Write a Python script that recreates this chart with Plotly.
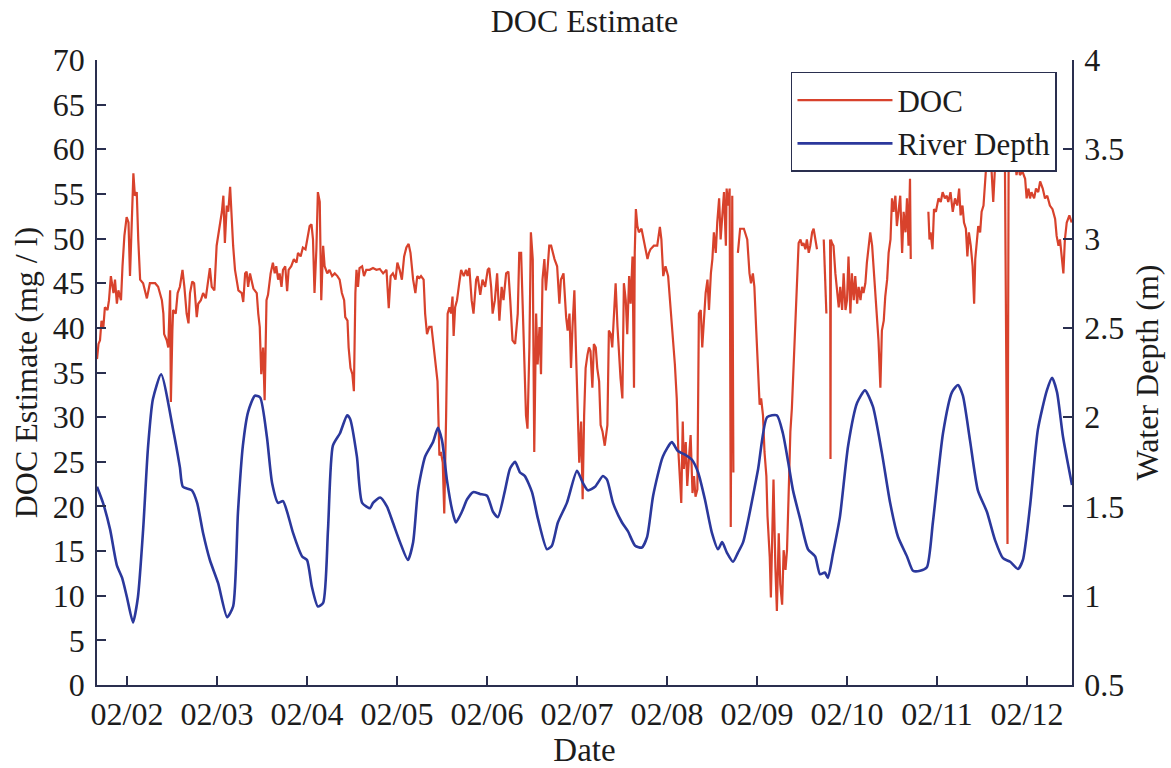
import pandas as pd
import plotly.graph_objects as go

# ---------------- data ----------------
base_date = "2014-02-01"

# River depth (m) : hours after 02/01 00:00
depth_hours = [16.0,17.6,19.5,21.3,22.7,24.0,25.6,26.9,28.3,29.6,
               30.9,33.1,36.3,38.1,38.9,41.3,42.7,44.3,46.1,48.3,
               50.7,52.3,53.6,54.9,56.3,58.1,59.5,61.3,62.7,64.3,
               65.6,66.7,68.3,70.7,72.0,73.3,74.9,76.3,77.6,78.9,
               80.8,82.7,83.5,85.3,86.7,88.8,89.6,91.5,93.3,94.9,
               96.8,98.9,100.3,101.6,103.5,105.6,106.9,108.0,109.3,110.7,
               111.7,113.3,114.7,116.3,118.1,120.0,121.6,122.9,124.8,126.1,
               127.5,128.8,130.1,132.0,133.6,136.0,137.3,138.9,141.3,144.0,
               145.6,146.9,148.8,150.9,152.0,153.6,156.0,157.6,159.5,161.3,
               162.7,164.3,166.9,169.3,170.9,172.8,174.7,176.3,178.1,180.0,
               181.6,182.7,184.0,185.6,186.9,188.3,190.1,192.3,194.7,197.3,
               198.9,200.3,201.6,203.5,205.6,207.5,208.8,210.1,210.9,212.3,
               214.1,216.3,218.7,220.8,222.9,225.3,227.5,229.6,232.0,233.6,
               235.5,237.3,238.9,241.6,244.0,245.6,246.9,248.8,250.9,253.3,
               255.5,257.6,259.5,261.6,262.9,264.8,266.9,269.3,270.7,272.0,
               273.6,276.0]
depth_m = [1.61,1.52,1.37,1.17,1.10,0.99,0.85,0.99,1.37,1.83,
           2.10,2.24,1.93,1.72,1.61,1.59,1.52,1.35,1.20,1.07,
           0.88,0.94,1.47,1.84,2.03,2.12,2.11,1.89,1.63,1.52,
           1.53,1.47,1.35,1.22,1.20,1.05,0.94,0.96,1.37,1.84,
           1.91,2.01,1.99,1.78,1.52,1.49,1.52,1.55,1.50,1.41,
           1.30,1.20,1.30,1.59,1.78,1.86,1.94,1.87,1.65,1.48,
           1.41,1.47,1.54,1.58,1.57,1.56,1.47,1.44,1.59,1.71,
           1.75,1.69,1.67,1.58,1.43,1.26,1.28,1.41,1.52,1.70,
           1.63,1.59,1.61,1.67,1.65,1.52,1.41,1.36,1.28,1.27,
           1.33,1.56,1.78,1.86,1.81,1.79,1.76,1.69,1.54,1.35,
           1.26,1.30,1.24,1.19,1.24,1.30,1.47,1.71,2.00,2.01,
           1.91,1.75,1.59,1.43,1.26,1.22,1.12,1.13,1.10,1.24,
           1.44,1.84,2.08,2.15,2.06,1.80,1.52,1.33,1.22,1.14,
           1.14,1.16,1.41,1.91,2.14,2.18,2.12,1.87,1.59,1.47,
           1.31,1.21,1.19,1.15,1.20,1.50,1.93,2.15,2.22,2.14,
           1.89,1.62]

# DOC estimate (mg/l) : hours after 02/01 00:00 (None = gap in record)
doc_hours = [16.0,16.4,16.8,17.2,17.7,18.1,18.8,19.2,19.7,20.4,20.8,21.3,21.7,22.4,22.8,23.3,23.9,24.4,24.8,25.3,
             25.7,26.1,26.6,27.0,27.5,28.3,29.3,30.1,31.5,32.3,33.3,33.7,33.9,34.6,35.0,35.5,35.7,36.1,36.3,37.0,
             37.5,38.1,38.8,39.3,39.9,40.4,40.8,41.4,41.9,42.6,43.0,43.7,44.3,45.0,45.7,46.1,46.6,47.3,47.9,48.5,
             49.3,49.7,50.1,50.6,51.0,51.5,51.9,52.3,52.8,53.7,54.6,55.0,55.5,55.9,56.3,56.8,57.7,58.6,59.0,
             59.4,59.8,60.3,60.7,61.2,61.6,62.3,62.9,63.4,63.8,64.3,64.7,65.2,65.6,66.2,66.7,67.1,67.8,68.5,69.2,
             69.6,70.3,70.9,71.6,72.1,72.7,73.2,73.6,74.0,74.5,74.9,75.4,75.8,76.3,76.7,77.4,78.0,78.7,79.4,80.1,
             80.7,81.3,81.9,82.2,82.8,83.1,83.6,84.1,84.5,84.9,85.2,85.6,86.0,86.7,87.2,87.8,88.7,89.6,90.5,91.4,
             92.3,93.2,93.8,94.3,94.9,95.6,96.1,96.7,97.3,97.9,98.5,99.1,99.6,100.3,100.9,101.4,102.0,
             102.4,103.1,103.5,104.0,104.6,105.2,105.8,106.4,106.8,107.3,107.7,108.2,108.6,109.1,109.5,110.0,110.4,110.8,111.1,111.5,
             112.0,112.6,113.1,113.8,114.4,114.8,115.3,115.9,116.4,117.1,117.5,118.2,118.8,119.5,120.2,120.6,121.1,121.5,122.1,122.7,
             123.3,123.9,124.4,125.1,125.7,126.2,126.8,127.5,128.2,128.6,129.1,129.5,130.0,130.4,130.8,131.3,131.7,132.2,132.6,133.1,
             133.5,134.0,134.4,134.8,135.3,135.7,136.2,136.6,137.1,137.5,138.0,138.7,139.3,139.7,140.4,141.1,141.5,142.0,142.4,142.8,
             143.3,143.7,144.2,144.6,145.1,145.5,
             145.9,146.3,146.8,147.2,147.6,148.1,148.5,149.0,149.4,149.9,150.3,150.8,151.4,152.1,152.5,153.0,153.4,153.9,154.3,154.8,
             155.2,155.6,156.1,156.5,157.0,157.4,157.9,158.3,158.8,159.2,159.4,159.7,160.1,160.5,161.2,161.7,162.3,162.8,163.2,163.6,
             164.5,165.4,166.1,166.5,167.0,167.6,168.3,168.8,169.4,170.1,170.6,171.0,171.5,171.8,172.2,172.5,173.0,173.4,173.9,174.3,
             174.8,175.2,175.6,176.1,176.5,177.0,177.4,177.9,178.3,178.8,179.2,179.7,180.1,180.5,181.0,181.4,181.9,182.3,182.8,183.2,
             183.7,183.9,184.3,184.7,185.0,185.4,185.7,186.3,186.9,187.5,188.5,189.4,
             190.0,190.4,190.9,191.3,191.8,192.2,192.7,193.1,193.6,194.0,194.5,194.8,195.4,195.7,196.1,196.4,196.9,197.3,197.8,198.2,
             198.7,199.1,199.6,200.0,200.4,200.9,201.3,201.8,202.2,202.7,203.1,203.6,204.0,204.4,204.9,205.3,205.8,206.2,206.7,207.1,
             207.6,208.0,208.9,209.8,210.2,210.5,211.0,211.5,211.6,211.7,212.0,212.4,212.9,213.3,213.8,214.2,214.7,215.1,215.6,216.0,
             216.4,216.9,217.3,217.8,218.2,218.7,219.1,219.6,220.0,220.4,220.9,221.3,221.8,222.2,222.7,223.1,223.6,224.0,224.4,224.9,
             225.3,225.8,226.2,226.7,227.1,227.6,228.0,228.4,228.9,229.3,229.8,230.2,230.7,231.1,231.6,232.0,232.4,232.8,233.0,235.0,
             237.7,238.0,238.3,238.8,239.2,239.7,240.4,241.0,241.5,242.1,242.6,243.0,243.6,244.2,244.8,245.4,245.9,246.3,246.8,247.2,
             247.7,248.1,248.5,249.0,249.5,249.9,250.2,250.6,251.0,251.5,251.9,252.4,252.8,253.2,253.7,254.3,255.0,255.5,256.4,257.2,
             258.1,258.8,259.1,259.9,260.8,261.2,261.7,262.1,262.8,263.5,263.9,264.4,264.8,265.2,265.9,266.4,267.0,267.5,268.2,268.8,
             269.4,270.1,270.8,271.5,271.9,272.4,272.8,273.2,273.7,274.1,274.6,275.3,275.9]
doc_mgl = [36.5,38.2,38.6,40.8,40.1,42.3,42.0,43.1,45.8,43.9,45.4,42.7,44.2,43.1,46.9,50.3,52.4,51.8,45.8,53.7,
           57.3,54.8,55.2,49.9,45.4,45.0,43.3,45.0,45.0,44.6,43.1,41.6,39.3,38.6,37.8,44.2,31.7,39.7,42.0,41.6,
           43.9,44.6,46.5,44.6,41.6,40.5,43.9,45.2,45.0,41.2,42.7,43.1,43.9,43.3,45.4,46.7,44.6,44.2,49.2,50.7,
           53.0,54.8,49.5,53.7,53.0,55.8,52.2,49.2,46.5,44.2,43.9,42.9,46.1,46.3,44.6,46.1,44.4,43.9,41.6,
           40.1,34.8,37.8,31.9,43.1,43.7,46.1,47.3,46.1,46.9,45.4,46.1,44.6,46.5,46.9,44.1,46.5,46.9,47.7,47.3,
           48.4,48.0,49.0,48.8,49.9,51.4,51.6,49.9,43.9,48.8,55.2,54.1,43.1,49.2,46.9,46.1,46.5,45.8,46.1,45.8,
           45.4,43.9,43.1,41.2,40.8,37.8,35.5,34.8,32.9,43.9,46.5,44.6,46.7,46.9,45.8,46.5,46.5,46.7,46.5,46.6,
           46.1,46.5,42.2,45.8,46.1,45.4,47.3,46.5,45.4,48.0,49.0,49.4,48.4,45.4,43.9,45.8,45.6,
           45.8,45.4,41.6,39.3,40.1,40.1,37.8,34.8,34.0,25.7,26.1,24.9,19.2,30.2,41.6,42.3,41.6,43.5,39.1,42.3,
           43.1,45.0,46.5,45.8,46.5,45.8,46.7,43.1,41.6,45.4,45.8,43.7,45.4,44.6,46.5,46.7,44.6,41.6,43.1,46.1,
           40.8,44.6,43.1,46.1,46.3,43.1,38.6,38.2,41.6,48.4,48.4,42.7,34.0,30.2,28.7,37.8,50.7,47.7,26.1,41.6,
           35.9,40.1,34.8,45.4,47.7,44.2,46.9,49.2,49.2,48.4,47.7,46.9,42.7,45.4,46.1,41.2,39.7,41.6,35.5,40.1,
           44.2,37.8,30.2,24.9,29.5,20.8,
           30.2,35.5,37.0,37.8,37.4,33.3,38.2,37.8,35.5,34.0,29.1,28.4,26.8,29.1,39.7,39.3,37.8,41.6,45.0,40.1,
           37.0,34.4,32.1,45.0,43.1,39.3,45.8,42.7,48.0,33.3,48.4,53.3,51.4,50.7,51.1,49.9,48.8,47.7,48.4,48.8,
           49.2,49.2,51.3,49.9,45.8,46.9,45.8,43.1,39.7,35.9,32.1,26.4,22.7,20.4,29.5,24.2,27.2,22.3,25.7,28.0,
           21.5,23.4,21.1,21.9,41.6,42.0,37.8,41.6,43.9,45.4,42.0,46.1,47.7,50.7,48.4,51.8,54.5,49.9,53.3,55.2,
           49.2,55.6,53.7,55.6,17.7,54.8,23.8,None,48.4,51.1,51.1,49.9,
           46.1,45.0,46.1,44.6,39.7,35.9,31.4,32.1,30.2,26.1,23.4,18.9,14.3,9.8,19.6,23.0,13.2,8.3,17.0,11.3,
           9.0,15.1,12.9,15.1,20.8,28.4,31.0,35.9,40.1,45.4,49.5,49.9,49.2,49.5,48.8,49.9,48.4,49.2,50.7,51.1,
           49.5,48.8,None,49.9,45.0,41.6,None,49.9,25.3,49.9,49.5,49.2,46.1,44.6,42.3,44.6,42.0,46.1,42.0,43.1,
           48.0,41.6,46.1,43.1,45.8,42.7,44.6,43.1,44.6,43.9,45.0,47.3,49.2,50.7,49.2,46.5,43.1,40.1,38.6,33.3,
           39.7,40.8,43.5,45.4,48.4,49.9,54.5,53.0,54.8,51.4,53.7,54.8,48.4,53.0,50.7,54.5,49.2,56.7,47.7,None,
           53.0,49.9,50.7,48.8,53.3,53.0,54.5,54.1,55.2,54.5,54.8,54.1,55.2,53.0,54.5,53.7,55.6,52.6,53.7,51.8,
           51.1,48.0,50.7,49.2,46.9,42.7,47.7,49.9,51.4,50.7,53.0,53.7,56.7,58.6,59.8,59.5,54.1,58.3,59.1,58.7,
           59.1,15.8,58.7,59.1,59.1,57.1,58.3,57.1,57.5,56.7,54.5,55.6,54.5,55.2,54.5,55.6,55.2,56.4,55.6,54.5,
           54.8,53.7,53.3,52.2,50.3,49.2,49.9,48.4,46.1,49.9,51.8,52.6,51.8]

assert len(depth_hours) == len(depth_m)
assert len(doc_hours) == len(doc_mgl), (len(doc_hours), len(doc_mgl))

x_start_hours = 16.0
x_end_hours = 276.0

# ---------------- figure ----------------
t0 = pd.Timestamp(base_date)
doc_t = t0 + pd.to_timedelta(doc_hours, unit="h")
dep_t = t0 + pd.to_timedelta(depth_hours, unit="h")

RED = "#D8422C"
BLUE = "#2B389C"
AX = "#2A2F4F"
TXT = "#1C1C1C"
FONT = "Liberation Serif, Times New Roman, DejaVu Serif, serif"

fig = go.Figure()
fig.add_trace(go.Scatter(x=doc_t, y=doc_mgl, name="DOC", mode="lines",
                         line=dict(color=RED, width=2.2), yaxis="y"))
fig.add_trace(go.Scatter(x=dep_t, y=depth_m, name="River Depth", mode="lines",
                         line=dict(color=BLUE, width=2.6, shape="spline", smoothing=0.6),
                         yaxis="y2"))

fig.update_layout(
    width=1171, height=768,
    margin=dict(l=97, r=99, t=60, b=83, autoexpand=False),
    paper_bgcolor="white", plot_bgcolor="white",
    font=dict(family=FONT, size=32, color=TXT),
    title=dict(text="DOC Estimate", x=0.5, xref="paper", y=1 - 21/768,
               yref="container", yanchor="middle", xanchor="center",
               font=dict(size=32, family=FONT, color=TXT)),
    xaxis=dict(type="date",
               range=[t0 + pd.Timedelta(hours=x_start_hours), t0 + pd.Timedelta(hours=x_end_hours)],
               tickformat="%m/%d", dtick=86400000, tick0="2014-02-02",
               ticks="inside", ticklen=9, tickwidth=1.5, tickcolor=AX,
               showline=True, linecolor=AX, linewidth=1.5,
               showgrid=False, zeroline=False, automargin=False,
               tickfont=dict(size=32),
               title=dict(text="Date", font=dict(size=33), standoff=2)),
    yaxis=dict(range=[0, 70], dtick=5, ticks="inside", ticklen=9, tickwidth=1.5,
               tickcolor=AX, showline=True, linecolor=AX, linewidth=1.5,
               showgrid=False, zeroline=False, automargin=False,
               tickfont=dict(size=32), ticklabelstandoff=4,
               title=dict(text="DOC Estimate (mg / l)", font=dict(size=32), standoff=6)),
    yaxis2=dict(range=[0.5, 4], dtick=0.5, overlaying="y", side="right",
                ticks="inside", ticklen=9, tickwidth=1.5, tickcolor=AX,
                showline=True, linecolor=AX, linewidth=1.5,
                showgrid=False, zeroline=False, automargin=False,
                tickfont=dict(size=32), ticklabelstandoff=4,
                title=dict(text="Water Depth (m)", font=dict(size=32), standoff=12)),
    legend=dict(x=0.9846, y=0.981, xanchor="right", yanchor="top",
                bgcolor="white", bordercolor=AX, borderwidth=1.5,
                font=dict(size=31, family=FONT, color=TXT),
                itemwidth=95, tracegroupgap=0),
    showlegend=True,
)

fig.write_html("out.html")
